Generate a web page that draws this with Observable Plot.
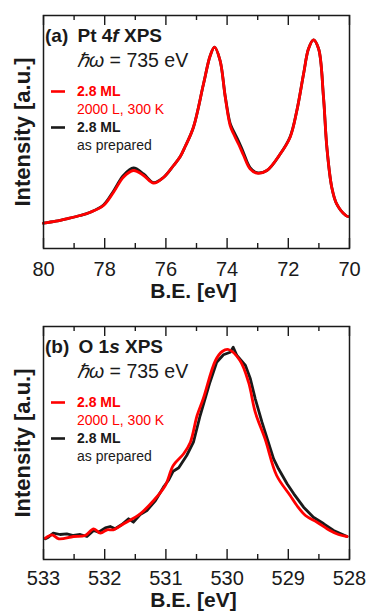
<!DOCTYPE html>
<html>
<head>
<meta charset="utf-8">
<script src="https://cdn.jsdelivr.net/npm/d3@7"></script>
<script src="https://cdn.jsdelivr.net/npm/@observablehq/plot@0.6"></script>
<style>
  body { margin: 0; background: #fff; }
  #chart { width: 370px; }
  #chart svg { display: block; }
</style>
</head>
<body>
<div id="chart"></div>
<script>
const FONT = "'Liberation Sans', Arial, Helvetica, sans-serif";
const RED = "#ff0000";
const INK = "#1a1a1a";

// Pt 4f spectra: binding energy (eV) and intensity (a.u.)
const ptBE       = [80.00, 79.60, 79.24, 78.80, 78.47, 78.04, 77.71, 77.39, 77.06, 76.73, 76.40, 76.08, 75.75, 75.53, 75.37, 75.10, 74.77, 74.55, 74.41, 74.23, 74.06, 73.90, 73.79, 73.62, 73.46, 73.25, 73.03, 72.70, 72.26, 71.94, 71.72, 71.50, 71.34, 71.18, 71.01, 70.85, 70.74, 70.58, 70.42, 70.12, 70.05];
const ptAnnealed = [25.3, 27.3, 29.7, 33.0, 36.3, 43.0, 56.3, 71.3, 78.0, 73.0, 65.3, 71.0, 83.0, 92.0, 102.0, 121.3, 164.7, 193.0, 201.3, 188.0, 151.3, 123.0, 114.7, 104.0, 93.0, 79.7, 75.3, 78.0, 94.7, 111.3, 138.0, 174.7, 199.7, 208.7, 199.7, 151.3, 101.3, 61.3, 44.7, 33.0, 32.0];
const ptPrepared = [25.3, 27.3, 29.7, 33.0, 36.3, 43.5, 57.5, 73.0, 80.5, 74.5, 65.8, 71.0, 83.0, 92.0, 102.0, 121.3, 164.7, 193.0, 201.3, 188.0, 152.0, 125.0, 117.5, 107.0, 95.5, 81.0, 75.8, 78.0, 94.7, 111.8, 138.0, 174.7, 199.7, 208.7, 199.7, 151.3, 101.3, 61.3, 44.7, 33.0, 32.0];

// O 1s spectra (the as-prepared trace is noisier, so it carries its own energy grid)
const oBEAnnealed = [532.97, 532.86, 532.75, 532.51, 532.32, 532.18, 532.07, 531.96, 531.86, 531.69, 531.42, 531.20, 531.01, 530.88, 530.71, 530.60, 530.49, 530.39, 530.19, 530.08, 529.98, 529.79, 529.65, 529.54, 529.38, 529.19, 528.97, 528.86, 528.72, 528.53, 528.32, 528.18, 528.04];
const oAnnealed   = [21.3, 24.7, 20.7, 23.0, 24.0, 30.7, 26.3, 29.7, 29.7, 35.7, 45.7, 59.0, 74.0, 94.0, 105.7, 117.3, 144.0, 160.7, 199.0, 208.0, 210.0, 199.0, 177.3, 147.3, 120.7, 84.0, 64.0, 54.0, 44.0, 37.3, 29.0, 25.0, 23.0];
const oBEPrepared = [532.97, 532.92, 532.84, 532.73, 532.62, 532.51, 532.40, 532.29, 532.18, 532.10, 531.99, 531.91, 531.83, 531.72, 531.61, 531.53, 531.42, 531.31, 531.17, 531.04, 530.96, 530.88, 530.79, 530.66, 530.55, 530.44, 530.28, 530.17, 530.06, 529.95, 529.90, 529.84, 529.70, 529.62, 529.54, 529.43, 529.24, 529.16, 529.02, 528.91, 528.75, 528.59, 528.42, 528.26, 528.04];
const oPrepared   = [20.7, 22.3, 26.3, 25.0, 25.7, 24.0, 25.0, 23.0, 29.0, 27.3, 31.7, 33.0, 30.7, 35.0, 40.7, 37.3, 45.0, 49.0, 59.0, 72.3, 79.0, 88.3, 91.7, 104.0, 117.3, 144.0, 177.3, 197.3, 204.7, 207.3, 212.3, 204.0, 194.0, 180.7, 160.7, 137.3, 100.7, 90.7, 75.7, 65.7, 52.3, 42.3, 35.7, 29.0, 23.0];

// Axis ticks
const ptTicks = [80, 78, 76, 74, 72, 70];
const ptMinor = [79, 77, 75, 73, 71];
const oTicks  = [533, 532, 531, 530, 529, 528];
const oMinor  = [532.5, 531.5, 530.5, 529.5, 528.5];

// Text
const xTitle = "B.E. [eV]";
const yTitle = "Intensity [a.u.]";
const photon = ["ℏω", " = 735 eV"];
const legendEntries = [
  {color: RED, lines: ["2.8 ML", "2000 L, 300 K"]},
  {color: INK, lines: ["2.8 ML", "as prepared"]}
];
const ptTitle = {tag: "(a)", pre: "Pt 4", ital: "f", post: " XPS"};
const oTitle  = {tag: "(b)", pre: "O 1", ital: "s", post: " XPS"};

const FRAME_H = 233;

// In-frame annotation block: panel title, photon energy and legend
function annotations(title) {
  return (index, scales, values, dim) => {
    const g = d3.create("svg:g")
      .attr("font-family", FONT)
      .attr("text-anchor", "start")
      .attr("transform", `translate(${dim.marginLeft},${dim.marginTop})`)
      .style("white-space", "pre");
    const t = g.append("text").attr("x", 2).attr("y", 27)
      .attr("font-size", 19).attr("font-weight", "bold").attr("fill", INK);
    t.append("tspan").text(title.tag);
    t.append("tspan").attr("dx", 4).text(" " + title.pre);
    t.append("tspan").attr("font-style", "italic").text(title.ital);
    t.append("tspan").text(title.post);

    const p = g.append("text").attr("x", 34).attr("y", 52)
      .attr("font-size", 19.5).attr("fill", INK);
    p.append("tspan").attr("font-style", "italic").text(photon[0]);
    p.append("tspan").text(photon[1]);

    legendEntries.forEach((e, k) => {
      const base = 81 + k * 36;
      g.append("line").attr("x1", 8).attr("x2", 22)
        .attr("y1", base - 4.5).attr("y2", base - 4.5)
        .attr("stroke", e.color).attr("stroke-width", 2.6);
      e.lines.forEach((s, j) => {
        g.append("text").attr("x", 34).attr("y", base + j * 18)
          .attr("font-size", 14).attr("font-weight", j === 0 ? "bold" : "normal")
          .attr("fill", e.color).text(s);
      });
    });
    return g.node();
  };
}

function panel({series, domain, ticks, minor, title, height, marginTop, marginBottom, tickPadding, xTitleDy}) {
  const tickStyle = {stroke: INK, strokeWidth: 1.4};
  return Plot.plot({
    width: 370,
    height,
    marginLeft: 43,
    marginRight: 21,
    marginTop,
    marginBottom,
    style: {fontFamily: FONT, color: INK, background: "white", overflow: "visible"},
    x: {domain},
    y: {domain: [0, FRAME_H], axis: null},
    marks: [
      ...series.map(s => Plot.line(s.be, {
        x: s.be, y: s.y, stroke: s.color, strokeWidth: 2.8, curve: s.curve
      })),
      Plot.frame({stroke: INK, strokeWidth: 1.5}),
      Plot.ruleX(ticks, {y1: 0, y2: 10, ...tickStyle}),
      Plot.ruleX(ticks, {y1: FRAME_H, y2: FRAME_H - 10, ...tickStyle}),
      Plot.ruleX(minor, {y1: 0, y2: 5, ...tickStyle}),
      Plot.ruleX(minor, {y1: FRAME_H, y2: FRAME_H - 5, ...tickStyle}),
      Plot.axisX({ticks, tickSize: 0, tickPadding, fontSize: 20, label: null, tickFormat: d => String(d)}),
      Plot.text([xTitle], {text: d => d, frameAnchor: "bottom", dy: xTitleDy, dx: -3,
        lineAnchor: "bottom", fontSize: 21, fontWeight: "bold", fill: INK}),
      Plot.text([yTitle], {text: d => d, frameAnchor: "left", rotate: -90, dx: -20.5,
        textAnchor: "middle", lineAnchor: "middle", fontSize: 22, fontWeight: "bold", fill: INK}),
      annotations(title)
    ]
  });
}

const chart = document.getElementById("chart");

chart.append(panel({
  series: [
    {be: ptBE, y: ptPrepared, color: INK, curve: "catmull-rom"},
    {be: ptBE, y: ptAnnealed, color: RED, curve: "catmull-rom"}
  ],
  domain: [80, 70], ticks: ptTicks, minor: ptMinor, title: ptTitle,
  height: 306, marginTop: 15, marginBottom: 58, tickPadding: 13, xTitleDy: 49
}));

chart.append(panel({
  series: [
    {be: oBEPrepared, y: oPrepared, color: INK, curve: "linear"},
    {be: oBEAnnealed, y: oAnnealed, color: RED, curve: "catmull-rom"}
  ],
  domain: [533, 528], ticks: oTicks, minor: oMinor, title: oTitle,
  height: 309, marginTop: 20, marginBottom: 56, tickPadding: 11, xTitleDy: 47
}));
</script>
</body>
</html>
